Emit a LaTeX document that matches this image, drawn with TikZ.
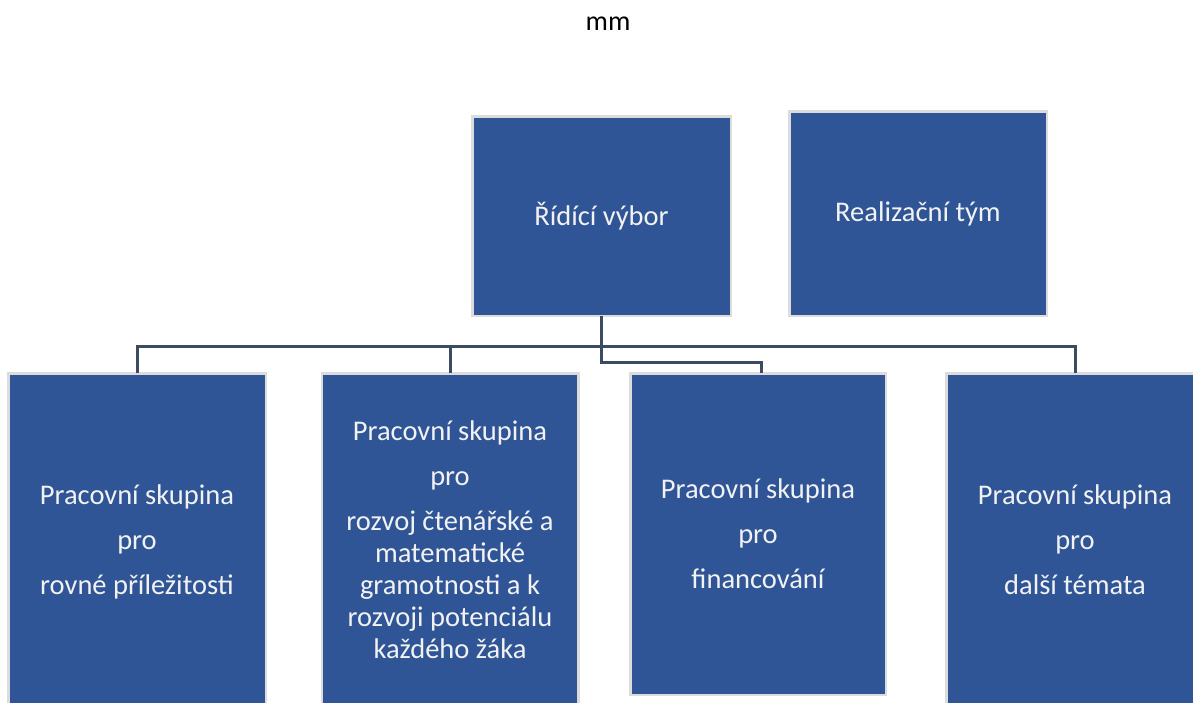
\documentclass[tikz,border=0pt]{standalone}
\usepackage{fontspec}
\setmainfont{Carlito}
\definecolor{boxfill}{HTML}{2F5597}
\definecolor{boxedge}{HTML}{DCDCDC}
\definecolor{conncol}{HTML}{3B4B61}
\definecolor{boxtext}{HTML}{F2F2F2}
\tikzset{
  orgbox/.style={draw=boxedge, line width=2.5pt, fill=boxfill, text=boxtext,
    align=center, inner sep=0pt, outer sep=0pt,
    font=\fontsize{28.5}{32}\selectfont},
  conn/.style={draw=conncol, line width=3pt},
}
\begin{document}
\begin{tikzpicture}[x=1pt,y=-1pt]
\useasboundingbox (0,0) rectangle (1193,702);
\node[font=\fontsize{28}{32}\selectfont] (title) at (608,24) {mm};
\node[orgbox, minimum width=258.5pt, minimum height=199.5pt] (ridici) at (601.5,216) {Řídící výbor};
\node[orgbox, minimum width=257.5pt, minimum height=204.5pt] (real) at (918,213.5) {Realizační tým};
\node[orgbox, minimum width=257.5pt, minimum height=337.5pt] (b1) at (137,542)
  {Pracovní skupina\\[13pt]pro\\[13pt]rovné příležitosti};
\node[orgbox, minimum width=256.5pt, minimum height=333.5pt] (b2) at (450,540)
  {Pracovní skupina\\[13pt]pro\\[13pt]rozvoj čtenářské a\\matematické\\gramotnosti a k\\rozvoji potenciálu\\každého žáka};
\node[orgbox, minimum width=255.5pt, minimum height=321.5pt] (b3) at (758,534)
  {Pracovní skupina\\[13pt]pro\\[13pt]financování};
\node[orgbox, minimum width=257.5pt, minimum height=333.5pt] (b4) at (1075,540)
  {Pracovní skupina\\[13pt]pro\\[13pt]další témata};
\coordinate (bus) at (601,346);
\coordinate (j3) at (761,362);
\draw[conn] (ridici.south) |- (j3) -- (j3 |- b3.north);
\draw[conn] (b1.north) |- (b4.north |- bus) -- (b4.north);
\draw[conn] (b2.north) -- (b2.north |- bus);
\end{tikzpicture}
\end{document}
